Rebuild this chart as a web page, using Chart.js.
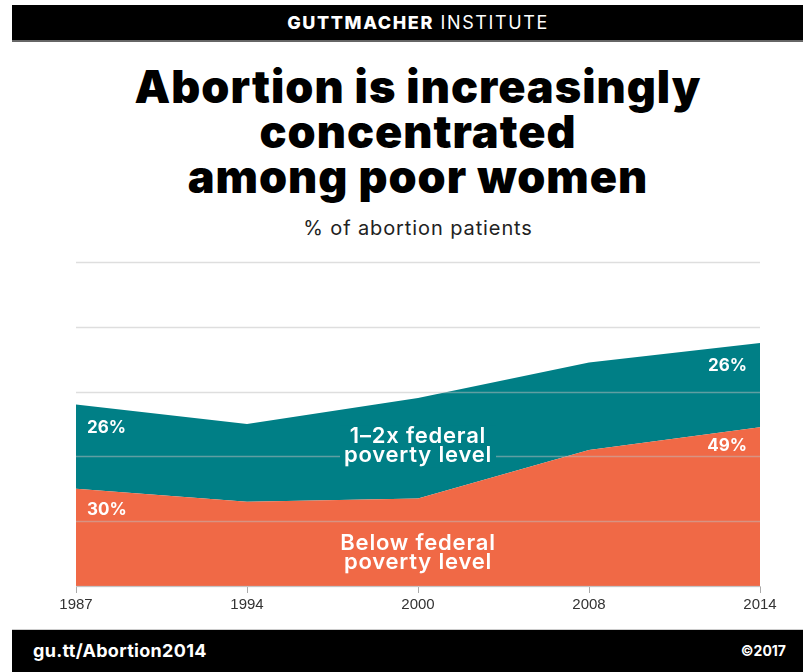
<!DOCTYPE html>
<html>
<head>
<meta charset="utf-8">
<script src="https://cdn.jsdelivr.net/npm/chart.js@4"></script>
<style>
  body { margin: 0; width: 803px; height: 672px; background: #fff; position: relative; overflow: hidden; font-family: Inter, 'Open Sans', sans-serif; }
  .bar { position: absolute; left: 12px; width: 791px; background: #000; }
  #top { top: 5px; height: 35px; border-bottom: 2px solid #666; }
  #bottom { top: 629px; height: 43px; border-top: 1px solid #ccc; }
  #brand { position: absolute; left: 0; width: 836px; top: 5px; height: 35px; line-height: 36px; text-align: center; color: #fff; font-size: 18px; letter-spacing: 1.6px; }
  #brand b { font-weight: 800; }
  #title { position: absolute; left: 0; width: 836px; top: 64px; text-align: center; font-size: 45px; line-height: 45px; font-weight: 900; color: #000; letter-spacing: 1px; }
  #subtitle { position: absolute; left: 0; width: 836px; top: 216px; text-align: center; font-size: 20px; color: #222; letter-spacing: 0.9px; }
  #link { position: absolute; left: 33px; top: 640px; color: #fff; font-size: 18px; font-weight: 700; letter-spacing: 0.3px; }
  #copy { position: absolute; right: 17px; top: 642px; color: #fff; font-size: 14px; font-weight: 700; }
  #wrap { position: absolute; left: 0; top: 240px; width: 803px; height: 380px; }
</style>
</head>
<body>
<div class="bar" id="top"></div>
<div id="brand"><b>GUTTMACHER</b> INSTITUTE</div>
<div id="title">Abortion is increasingly<br>concentrated<br>among poor women</div>
<div id="subtitle">% of abortion patients</div>
<div id="wrap"><canvas id="areaChart" width="803" height="380"></canvas></div>
<div class="bar" id="bottom"></div>
<div id="link">gu.tt/Abortion2014</div>
<div id="copy">©2017</div>
<script>
// data
const years = ['1987', '1994', '2000', '2008', '2014'];
const belowPoverty = [30, 26, 27, 42, 49];
const oneToTwoX = [26, 24, 31, 27, 26];
const yMax = 100;
const yStep = 20;

const teal = 'rgb(0, 127, 134)';
const orange = 'rgb(240, 105, 70)';

// gridlines go over the filled areas
const gridOnTop = {
    id: 'gridOnTop',
    afterDatasetsDraw(chart) {
        const ctx = chart.ctx;
        const area = chart.chartArea;
        const y = chart.scales.y;
        ctx.save();
        ctx.strokeStyle = 'rgba(190, 190, 190, 0.5)';
        ctx.lineWidth = 1.5;
        y.ticks.forEach(tick => {
            const py = Math.round(y.getPixelForValue(tick.value)) + 0.5;
            ctx.beginPath();
            ctx.moveTo(area.left, py);
            ctx.lineTo(area.right, py);
            ctx.stroke();
        });
        ctx.restore();
    }
};

// labels drawn on top of the areas
const areaLabels = {
    id: 'areaLabels',
    afterDraw(chart) {
        const ctx = chart.ctx;
        const area = chart.chartArea;
        const low = chart.getDatasetMeta(0).data;
        const mid = chart.getDatasetMeta(1).data;
        const last = years.length - 1;
        ctx.save();
        ctx.fillStyle = '#fff';
        ctx.textBaseline = 'middle';
        ctx.font = '700 17px Inter, sans-serif';

        // first and last values
        ctx.textAlign = 'left';
        ctx.fillText(oneToTwoX[0] + '%', area.left + 11, mid[0].y + 23);
        ctx.fillText(belowPoverty[0] + '%', area.left + 11, low[0].y + 21);
        ctx.textAlign = 'right';
        ctx.fillText(oneToTwoX[last] + '%', area.right - 13, mid[last].y + 23);
        ctx.fillText(belowPoverty[last] + '%', area.right - 13, low[last].y + 19);

        // series names, around the 2000 point
        const cx = (area.left + area.right) / 2;
        ctx.textAlign = 'center';
        ctx.textBaseline = 'alphabetic';
        ctx.font = '600 22px Inter, sans-serif';
        ctx.letterSpacing = '0.8px';
        const t = mid[2].y;
        ctx.fillStyle = teal;
        ctx.fillRect(cx - 78, t + 27, 156, 42);
        ctx.fillStyle = '#fff';
        ctx.fillText('1–2x federal', cx, t + 45);
        ctx.fillText('poverty level', cx, t + 64);
        const b = low[2].y;
        ctx.fillText('Below federal', cx, b + 51);
        ctx.fillText('poverty level', cx, b + 70);
        ctx.restore();
    }
};

const chartCtx = document.getElementById('areaChart').getContext('2d');
const areaChart = new Chart(chartCtx, {
    type: 'line',
    data: {
        labels: years,
        datasets: [{
            label: 'Below federal poverty level',
            data: belowPoverty,
            backgroundColor: orange,
            borderWidth: 0,
            pointRadius: 0,
            fill: 'origin'
        }, {
            label: '1–2x federal poverty level',
            data: oneToTwoX,
            backgroundColor: teal,
            borderWidth: 0,
            pointRadius: 0,
            fill: '-1'
        }]
    },
    options: {
        responsive: false,
        animation: false,
        layout: { padding: { left: 76, right: 43, top: 22, bottom: 0 } },
        plugins: {
            legend: { display: false },
            tooltip: { enabled: false }
        },
        scales: {
            x: {
                grid: { drawOnChartArea: false, tickLength: 7, color: '#aaa', lineWidth: 1 },
                border: { color: '#ccc' },
                ticks: { color: '#333', font: { family: 'Liberation Sans', size: 15 }, padding: 3, maxRotation: 0, autoSkip: false },
                afterFit(scale) { scale.height = 34; }
            },
            y: {
                stacked: true,
                min: 0,
                max: yMax,
                grid: { display: false },
                border: { display: false },
                ticks: { display: false, stepSize: yStep },
                afterFit(scale) { scale.width = 0; }
            }
        }
    },
    plugins: [gridOnTop, areaLabels]
});
</script>
</body>
</html>
